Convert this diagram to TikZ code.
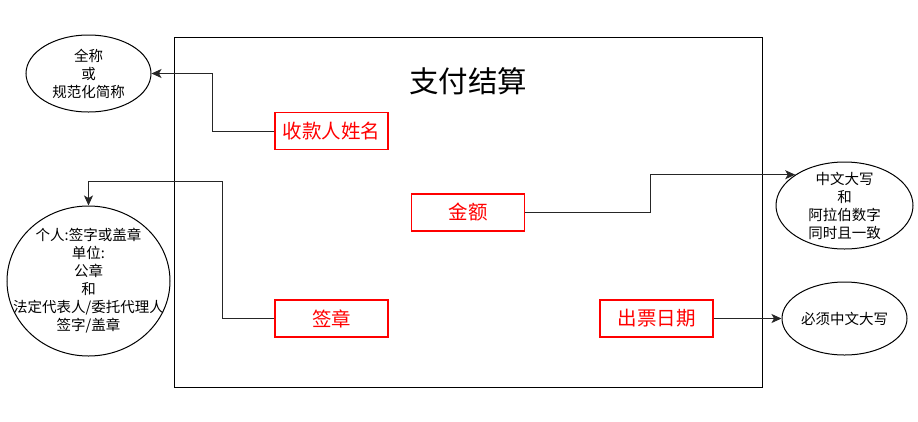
\documentclass[tikz,border=0pt]{standalone}
\usepackage{fontspec}
\newfontfamily\cjk{Noto Sans CJK SC}
\usetikzlibrary{shapes.geometric,arrows.meta,calc}
\begin{document}
\begin{tikzpicture}[x=1pt,y=-1pt,
  every node/.style={font=\cjk},
  frame/.style={draw=black, line width=1pt, inner sep=0pt},
  field/.style={draw=red, text=red, line width=1.1pt, minimum width=113pt,
    minimum height=37pt, inner sep=0pt, font=\cjk\fontsize{19.5}{23}\selectfont},
  note/.style={draw=black, line width=1pt, ellipse, inner sep=0pt},
  notetext/.style={align=center, inner sep=0pt, font=\cjk\fontsize{14.5}{18}\selectfont},
  conn/.style={draw=black!85, line width=1pt, -{Stealth[length=10pt,width=9pt,inset=2.5pt]}}]
\useasboundingbox (0,0) rectangle (918,421);

% outer frame and title
\node[frame, minimum width=588pt, minimum height=350pt, anchor=north west] (main) at (174,37) {};
\node[font=\cjk\fontsize{29.5}{32}\selectfont] (title) at (468,81) {支付结算};

% required fields
\node[field] (pay)  at (331.5,131)   {收款人姓名};
\node[field] (amt)  at (468,212.5)   {金额};
\node[field] (sign) at (331.5,318.5) {签章};
\node[field] (date) at (656.5,318.5) {出票日期};

% explanatory ellipses
\node[note, minimum width=125pt, minimum height=77pt]  (e1) at (88.5,73.5) {};
\node[note, minimum width=163pt, minimum height=150pt] (e2) at (88.5,281) {};
\node[note, minimum width=137pt, minimum height=87pt]  (e3) at (844.5,205.5) {};
\node[note, minimum width=125pt, minimum height=73pt]  (e4) at (844.5,318.5) {};

\node[notetext] (e1t) at (e1) {全称\\或\\规范化简称};
\node[notetext] (e2t) at (e2) {个人:签字或盖章\\单位:\\公章\\和\\法定代表人/委托代理人\\签字/盖章};
\node[notetext] (e3t) at (e3) {中文大写\\和\\阿拉伯数字\\同时且一致};
\node[notetext] (e4t) at (e4) {必须中文大写};

% connectors
\coordinate (sbend) at (222,181);
\draw[conn] (pay.west) -- ++(-62,0) |- (e1.east);
\draw[conn] (sign.west) -| (sbend) -| (e2.north);
\draw[conn] (amt.east) -| ([xshift=-145pt]e3.148) -- (e3.148);
\draw[conn] (date.east) -- (e4.west);
\end{tikzpicture}
\end{document}
